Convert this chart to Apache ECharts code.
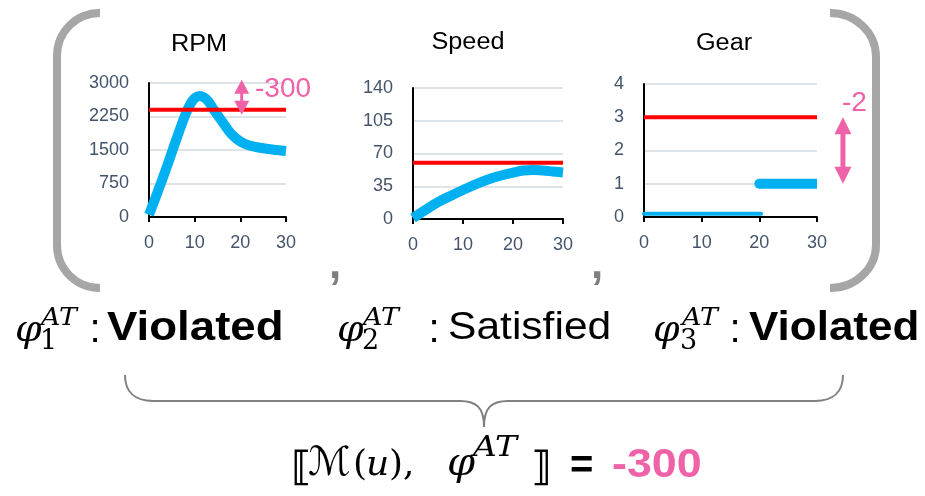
<!DOCTYPE html>
<html><head><meta charset="utf-8">
<script src="https://cdn.jsdelivr.net/npm/echarts@6/dist/echarts.min.js"></script>
<style>html,body{margin:0;padding:0;background:#fff}#c{width:925px;height:496px}</style>
</head><body><div id="c"></div>
<script>
// ---- data ----
const timeTicks = [0, 10, 20, 30];
const rpmTicks = [0, 750, 1500, 2250, 3000];
const speedTicks = [0, 35, 70, 105, 140];
const gearTicks = [0, 1, 2, 3, 4];

const rpmTime   = [0, 2, 4, 6, 8, 9, 10, 11, 12, 13, 14, 16, 18, 20, 22, 25, 28, 30];
const rpmValues = [50, 590, 1150, 1740, 2300, 2520, 2660, 2710, 2680, 2590, 2430, 2140, 1860, 1690, 1600, 1540, 1500, 1480];
const rpmThreshold = 2400;

const speedTime   = [0, 2, 5, 8, 10, 13, 16, 18, 20, 22, 24, 26, 28, 30];
const speedValues = [1, 8, 18, 26, 31, 38, 44, 47, 49.5, 51.8, 52.5, 51.8, 50.8, 49.8];
const speedThreshold = 60;

const gearLowTime = [0, 20.3];
const gearLowValues = [0.1, 0.1];
const gearHighTime = [20, 30];
const gearHighValues = [1, 1];
const gearThreshold = 3;

const titles = ['RPM', 'Speed', 'Gear'];
const rpmRobustness = '-300';
const gearRobustness = '-2';
const totalRobustness = '-300';
// annotation arrows (data coords)
const rpmArrow = { t: 20.3, top: 3075, bottom: 2290 };
const gearArrow = { t: 34.5, top: 3, bottom: 1 };

// ---- styles ----
const BLUE = '#00b0f0', RED = '#ff0000', PINK = '#f062a7', LBL = '#44546a';
const SANS = '"Liberation Sans", Arial, sans-serif';
const SERIF = '"DejaVu Serif", serif';

const zip = (xs, ys) => xs.map((x, i) => [x, ys[i]]);
const grids = [
  { left: 149, top: 83, width: 137, height: 134 },
  { left: 413, top: 88, width: 150, height: 131 },
  { left: 644, top: 84, width: 173, height: 133 }
];
const yTicksList = [rpmTicks, speedTicks, gearTicks];

const xAxes = grids.map((g, i) => ({
  type: 'value', gridIndex: i, min: timeTicks[0], max: timeTicks[timeTicks.length - 1],
  interval: timeTicks[1] - timeTicks[0],
  axisLine: { show: true, onZero: false, lineStyle: { color: '#000', width: 2 } },
  axisTick: { show: true, length: 5, lineStyle: { color: '#000', width: 2 } },
  axisLabel: { fontSize: 18, color: LBL, margin: 17, fontFamily: SANS, formatter: v => String(v) },
  splitLine: { show: false }
}));
const yAxes = yTicksList.map((tk, i) => ({
  type: 'value', gridIndex: i, min: tk[0], max: tk[tk.length - 1], interval: tk[1] - tk[0],
  axisLine: { show: true, lineStyle: { color: '#000', width: 2 } },
  axisTick: { show: false },
  axisLabel: { fontSize: 18, color: LBL, margin: 20, fontFamily: SANS, formatter: v => String(v) },
  splitLine: { show: true, lineStyle: { color: '#dfe3ea', width: 2 } }
}));

function sig(i, data, width, cap) {
  return { type: 'line', xAxisIndex: i, yAxisIndex: i, data, showSymbol: false, symbol: 'none',
    smooth: 0.4, z: 3, lineStyle: { color: BLUE, width, cap: cap || 'butt', join: 'round' } };
}
function thr(i, v) {
  return { type: 'line', xAxisIndex: i, yAxisIndex: i, data: [[timeTicks[0], v], [timeTicks[timeTicks.length - 1], v]],
    showSymbol: false, symbol: 'none', z: 4, lineStyle: { color: RED, width: 4 } };
}
const gearHighData = zip(gearHighTime, gearHighValues).map((p, k) =>
  k === 0 ? { value: p, symbol: 'circle', symbolSize: 10 } : { value: p, symbol: 'none' });

const chart = echarts.init(document.getElementById('c'), null, { renderer: 'canvas' });
chart.setOption({
  animation: false,
  backgroundColor: '#fff',
  grid: grids,
  xAxis: xAxes,
  yAxis: yAxes,
  series: [
    sig(0, zip(rpmTime, rpmValues), 10),
    thr(0, rpmThreshold),
    sig(1, zip(speedTime, speedValues), 10),
    thr(1, speedThreshold),
    Object.assign(sig(2, zip(gearLowTime, gearLowValues), 4, 'round'), { smooth: false }),
    Object.assign(sig(2, gearHighData, 10, 'butt'), { smooth: false, showSymbol: true, symbol: 'circle',
      itemStyle: { color: BLUE, borderWidth: 0 } }),
    thr(2, gearThreshold)
  ]
});

// ---- decorations ----
function txt(x, y, text, font, color, align, sx) {
  return { type: 'text', x, y, scaleX: sx || 1, z: 10,
    style: { text, font, fill: color || '#000', align: align || 'left', verticalAlign: 'middle' } };
}
function ln(x1, y1, x2, y2, st) { return { type: 'line', z: 10, shape: { x1, y1, x2, y2 }, style: st }; }
function bz(x1, y1, c1x, c1y, c2x, c2y, x2, y2, st) {
  return { type: 'bezierCurve', z: 10, shape: { x1, y1, cpx1: c1x, cpy1: c1y, cpx2: c2x, cpy2: c2y, x2, y2 }, style: st };
}
function arrow(gi, a, headW, headH, lw) {
  const p1 = chart.convertToPixel({ xAxisIndex: gi, yAxisIndex: gi }, [a.t, a.top]);
  const p2 = chart.convertToPixel({ xAxisIndex: gi, yAxisIndex: gi }, [a.t, a.bottom]);
  const x = p1[0], y1 = p1[1], y2 = p2[1];
  return [
    ln(x, y1 + headH - 1, x, y2 - headH + 1, { stroke: PINK, lineWidth: lw }),
    { type: 'polygon', z: 10, shape: { points: [[x - headW / 2, y1 + headH], [x + headW / 2, y1 + headH], [x, y1]] }, style: { fill: PINK } },
    { type: 'polygon', z: 10, shape: { points: [[x - headW / 2, y2 - headH], [x + headW / 2, y2 - headH], [x, y2]] }, style: { fill: PINK } }
  ];
}
const BR = { stroke: '#a6a6a6', lineWidth: 8, fill: null, lineCap: 'butt' };
const BRC = { stroke: '#808080', lineWidth: 2, fill: null };
const gfx = [
  // titles
  txt(199, 45, titles[0], '23px ' + SANS, '#000', 'center', 1.1),
  txt(468, 43, titles[1], '23px ' + SANS, '#000', 'center', 1.1),
  txt(724, 44, titles[2], '23px ' + SANS, '#000', 'center', 1.1),
  // robustness labels
  txt(255, 89, rpmRobustness, '28px ' + SANS, PINK),
  txt(842, 103, gearRobustness, '28px ' + SANS, PINK),
  // big brackets
  bz(100, 13, 76, 13, 57, 32, 57, 56, BR), ln(57, 56, 57, 245, BR), bz(57, 245, 57, 269, 76, 288, 100, 288, BR),
  bz(830, 13, 855, 13, 876, 32, 876, 57, BR), ln(876, 57, 876, 245, BR), bz(876, 245, 876, 269, 855, 288, 830, 288, BR),
  // commas
  txt(335, 266, ',', 'bold 44px ' + SANS, '#7f7f7f', 'center'),
  txt(597, 266, ',', 'bold 44px ' + SANS, '#7f7f7f', 'center'),
  // row of verdicts
  txt(15, 331, 'φ', 'italic 38px ' + SERIF),
  txt(41, 319, 'AT', 'italic 24px ' + SERIF, '#000', 'left', 1.12),
  txt(40, 342, '1', '27px ' + SERIF),
  txt(95, 331, ':', '40px ' + SANS, '#000', 'center'),
  txt(107, 329, 'Violated', 'bold 40px ' + SANS, '#000', 'left', 1.14),
  txt(337, 331, 'φ', 'italic 38px ' + SERIF),
  txt(363, 319, 'AT', 'italic 24px ' + SERIF, '#000', 'left', 1.12),
  txt(362, 342, '2', '27px ' + SERIF),
  txt(434, 331, ':', '40px ' + SANS, '#000', 'center'),
  txt(448, 329, 'Satisfied', '38px ' + SANS, '#000', 'left', 1.12),
  txt(653, 331, 'φ', 'italic 38px ' + SERIF),
  txt(682, 319, 'AT', 'italic 24px ' + SERIF, '#000', 'left', 1.12),
  txt(680, 342, '3', '27px ' + SERIF),
  txt(735, 331, ':', '40px ' + SANS, '#000', 'center'),
  txt(749, 329, 'Violated', 'bold 40px ' + SANS, '#000', 'left', 1.10),
  // brace
  bz(125, 375, 125, 392, 135, 401, 153, 401, BRC), ln(153, 401, 460, 401, BRC),
  bz(460, 401, 477, 401, 484, 408, 484, 427, BRC), bz(484, 427, 484, 408, 491, 401, 508, 401, BRC),
  ln(508, 401, 815, 401, BRC), bz(815, 401, 833, 401, 843, 392, 843, 375, BRC),
  // formula
  txt(291, 470, '⟦', 'bold 40px "DejaVu Sans"'),
  txt(308, 465, 'ℳ', '40px "DejaVu Sans"'),
  txt(353, 466, '(', '36px ' + SERIF),
  txt(366, 466, 'u', 'italic 36px ' + SERIF),
  txt(389, 466, '),', '36px ' + SERIF),
  txt(447, 465, 'φ', 'italic 40px ' + SERIF),
  txt(473, 449, 'AT', 'italic 27px ' + SERIF, '#000', 'left', 1.22),
  txt(531, 470, '⟧', 'bold 40px "DejaVu Sans"'),
  txt(570, 467, '=', 'bold 40px ' + SANS),
  txt(612, 466, totalRobustness, 'bold 40px ' + SANS, PINK, 'left', 1.12)
].concat(arrow(0, rpmArrow, 15, 14, 3), arrow(2, gearArrow, 17, 17, 5));

chart.setOption({ graphic: gfx });
</script>
</body></html>
